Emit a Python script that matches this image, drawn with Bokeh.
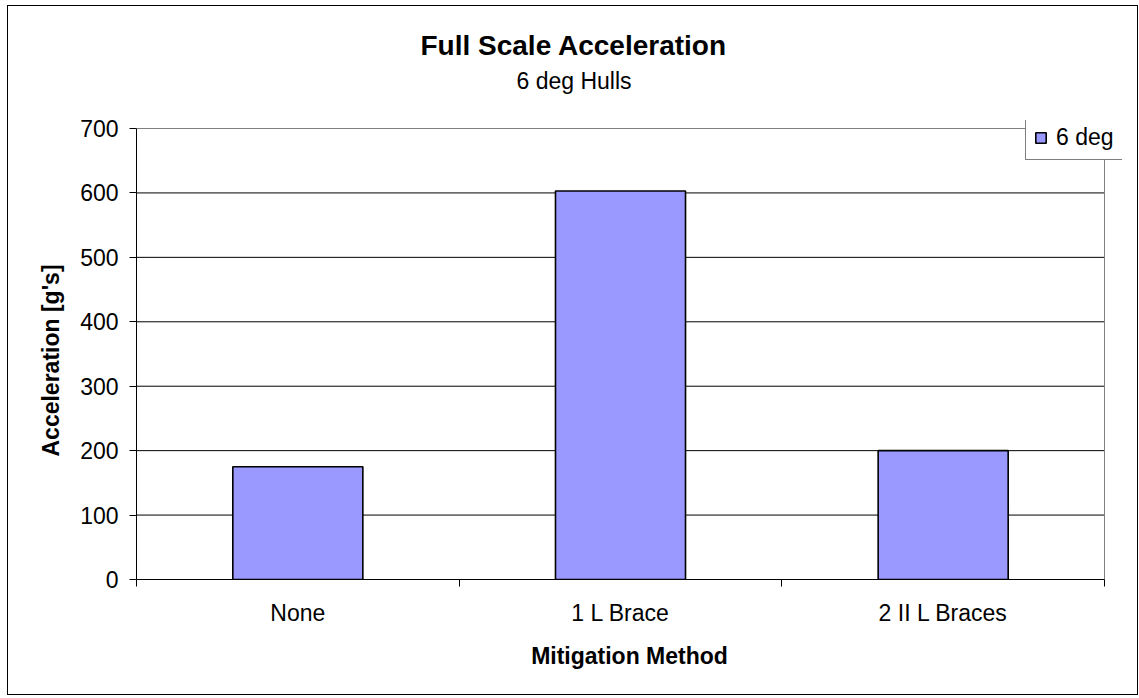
from bokeh.plotting import figure
from bokeh.models import (FixedTicker, Legend, LegendItem, Title, ColumnDataSource)
from bokeh.embed import file_html
from bokeh.resources import INLINE

categories = ["None", "1 L Brace", "2 II L Braces"]
accel_6deg = [175, 603, 200]
series_name = "6 deg"
y_ticks = [0, 100, 200, 300, 400, 500, 600, 700]
chart_title = "Full Scale Acceleration"
chart_subtitle = "6 deg Hulls"
x_title = "Mitigation Method"
y_title = "Acceleration [g's]"

FONT = "Liberation Sans"
n = len(categories)
y_max = y_ticks[-1]
xpos = [i + 0.5 for i in range(n)]
src = ColumnDataSource(dict(x=xpos, top=accel_6deg, cat=categories))

# frame is a little larger than the value area so the legend can overhang it
p = figure(width=1131, height=690, output_backend="svg", toolbar_location=None,
           x_range=(0, n * 986 / 968), y_range=(0, y_max * 459 / 451),
           min_border_left=128, min_border_right=17, min_border_top=114, min_border_bottom=117)
p.styles = {"border": "1px solid black", "box-sizing": "border-box",
            "margin-left": "7px", "margin-top": "5px"}
p.outline_line_color = None
p.background_fill_color = "white"
p.border_fill_color = "white"

# grid lines and plot-area border, limited to the value area
grid_y = y_ticks[1:-1]
p.segment(x0=[0] * len(grid_y), x1=[n] * len(grid_y), y0=grid_y, y1=grid_y,
          line_color="black", line_width=1)
p.segment(x0=[0, n], y0=[y_max, 0], x1=[n, n], y1=[y_max, y_max],
          line_color="#808080", line_width=1)

r = p.vbar(x="x", top="top", width=0.403, source=src, fill_color="#9999FF",
           line_color="black", line_width=1.6)

# Titles: spacer (closest to plot), subtitle, main title -- centred on the whole chart
p.add_layout(Title(text=" ", text_font_size="1px", standoff=22), "above")
p.add_layout(Title(text=chart_subtitle, align="left", offset=380, text_font=FONT,
                   text_font_size="23px", text_font_style="normal", text_color="black",
                   standoff=4), "above")
p.add_layout(Title(text=chart_title, align="left", offset=284, text_font=FONT,
                   text_font_size="28px", text_font_style="bold", text_color="black",
                   standoff=5), "above")

# y axis title, centred on the value area
p.add_layout(Title(text=y_title, align="left", offset=123, text_font=FONT,
                   text_font_size="23px", text_font_style="bold", text_color="black",
                   standoff=28), "left")

# y axis
p.yaxis.bounds = (0, y_max)
p.yaxis.ticker = FixedTicker(ticks=y_ticks)
p.yaxis.major_label_text_font = FONT
p.yaxis.major_label_text_font_size = "23px"
p.yaxis.major_label_text_color = "black"
p.yaxis.major_label_standoff = 11
p.yaxis.major_tick_out = 7
p.yaxis.major_tick_in = 0
p.yaxis.minor_tick_line_color = None
p.yaxis.axis_line_color = "black"
p.yaxis.major_tick_line_color = "black"

# x axis
p.xaxis.bounds = (0, n)
p.xaxis.ticker = FixedTicker(ticks=xpos, minor_ticks=list(range(n + 1)))
p.xaxis.major_label_overrides = {x: c for x, c in zip(xpos, categories)}
p.xaxis.major_tick_line_color = None
p.xaxis.major_tick_out = 0
p.xaxis.major_tick_in = 0
p.xaxis.minor_tick_out = 7
p.xaxis.minor_tick_in = 0
p.xaxis.minor_tick_line_color = "black"
p.xaxis.axis_line_color = "black"
p.xaxis.major_label_text_font = FONT
p.xaxis.major_label_text_font_size = "23px"
p.xaxis.major_label_text_color = "black"
p.xaxis.major_label_standoff = 13
p.xaxis.axis_label = x_title
p.xaxis.axis_label_text_font = FONT
p.xaxis.axis_label_text_font_size = "23px"
p.xaxis.axis_label_text_font_style = "bold"
p.xaxis.axis_label_text_color = "black"
p.xaxis.axis_label_standoff = 14

p.xgrid.grid_line_color = None
p.ygrid.grid_line_color = None

legend = Legend(items=[LegendItem(label=series_name, renderers=[r])],
                location=(889, 419), orientation="vertical",
                label_text_font=FONT, label_text_font_size="23px", label_text_color="black",
                glyph_width=13, glyph_height=13, label_standoff=9, label_height=24,
                padding=8, margin=0, spacing=0,
                border_line_color="black", border_line_width=1,
                background_fill_color="white", background_fill_alpha=1.0)
p.add_layout(legend, "center")

open("out.html", "w").write(file_html(p, INLINE))
